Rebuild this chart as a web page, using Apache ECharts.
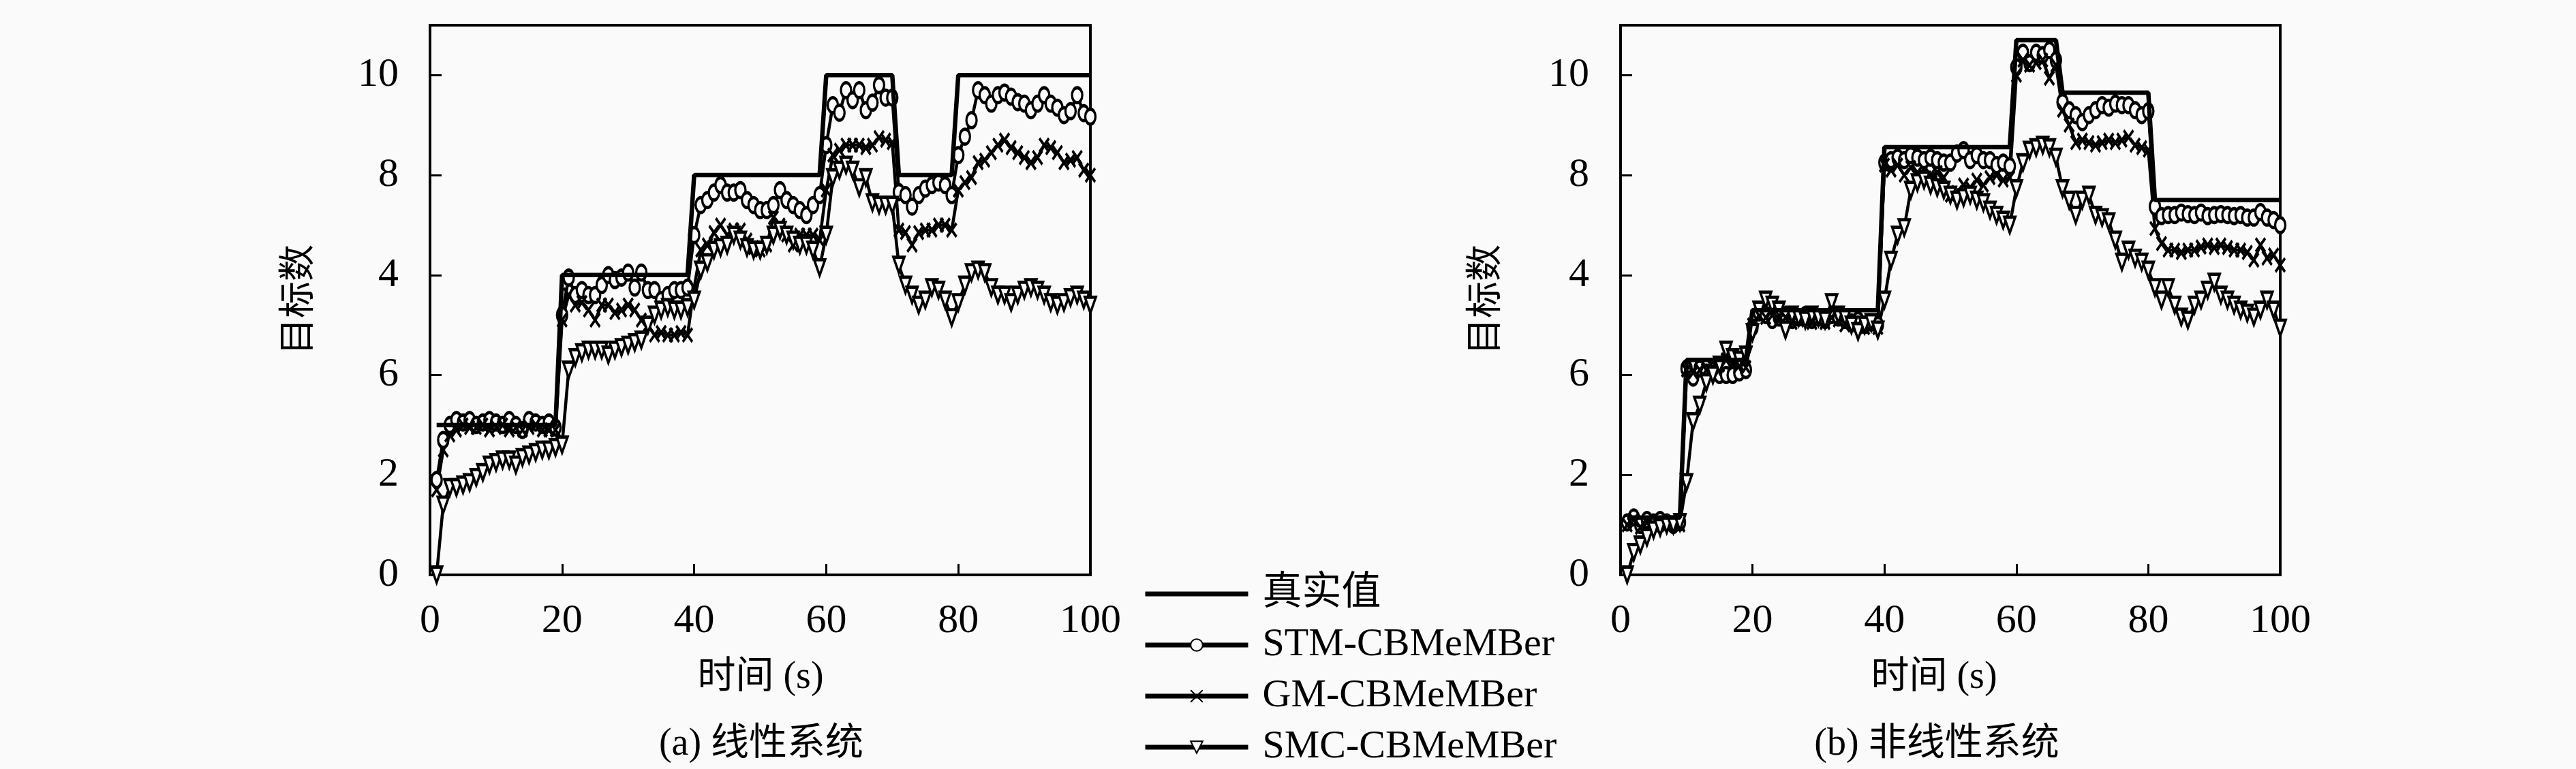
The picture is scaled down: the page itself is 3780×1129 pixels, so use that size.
<!DOCTYPE html>
<html>
<head>
<meta charset="utf-8">
<script src="https://cdn.jsdelivr.net/npm/echarts@6/dist/echarts.min.js"></script>
<style>
  html, body { margin: 0; padding: 0; background: #fafafa; }
  #chart { width: 3780px; height: 1129px; }
</style>
</head>
<body>
<div id="chart"></div>
<script>
// y tick labels exactly as printed in the figure (6 and 4 appear swapped there)
const yTickLabels = ['0', '2', '6', '4', '8', '10'];
const seriesNames = ['真实值', 'STM-CBMeMBer', 'GM-CBMeMBer', 'SMC-CBMeMBer'];
const seconds = Array.from({ length: 100 }, (_, i) => i + 1);

// (a) linear system, one value per second, t = 1..100
const linTruth = [
  3, 3, 3, 3, 3, 3, 3, 3, 3, 3, 3, 3, 3, 3, 3, 3, 3, 3, 3,
  6, 6, 6, 6, 6, 6, 6, 6, 6, 6, 6, 6, 6, 6, 6, 6, 6, 6, 6, 6,
  8, 8, 8, 8, 8, 8, 8, 8, 8, 8, 8, 8, 8, 8, 8, 8, 8, 8, 8, 8,
  10, 10, 10, 10, 10, 10, 10, 10, 10, 10, 10,
  8, 8, 8, 8, 8, 8, 8, 8, 8,
  10, 10, 10, 10, 10, 10, 10, 10, 10, 10, 10, 10, 10, 10, 10, 10, 10, 10, 10, 10, 10,
];
const linStm = [
  1.9, 2.7, 3.0, 3.1, 3.05, 3.1, 3.0, 3.05, 3.1, 3.05, 3.0, 3.1, 3.0, 2.9, 3.1, 3.05, 3.0, 3.05, 2.95,
  5.2, 5.95, 5.6, 5.7, 5.6, 5.6, 5.8, 6.0, 5.9, 5.95, 6.05, 5.75, 6.05, 5.7, 5.7, 5.5, 5.6, 5.7, 5.7, 5.75,
  6.8, 7.4, 7.5, 7.65, 7.8, 7.65, 7.65, 7.7, 7.5, 7.4,
  7.3, 7.3, 7.4, 7.7, 7.5, 7.4, 7.3, 7.2, 7.4, 7.6,
  8.6, 9.4, 9.25, 9.7, 9.5, 9.7, 9.3, 9.45, 9.8, 9.55, 9.55,
  7.66, 7.6, 7.37, 7.6, 7.73, 7.8, 7.85, 7.8, 7.6,
  8.4, 8.77, 9.1, 9.7, 9.6, 9.43, 9.6, 9.65, 9.57, 9.46, 9.43, 9.3, 9.43, 9.6, 9.43, 9.35, 9.2, 9.28, 9.6, 9.24, 9.17,
];
const linGm = [
  1.7, 2.5, 2.8, 2.9, 3.0, 2.95, 2.95, 3.0, 2.9, 2.95, 3.0, 2.9, 2.95, 2.9, 2.95, 3.0, 2.9, 2.9, 2.9,
  5.1, 5.6, 5.4, 5.45, 5.3, 5.1, 5.4, 5.4, 5.25, 5.3, 5.4, 5.3, 5.1, 5.0, 4.8, 4.85, 4.8, 4.8, 4.85, 4.8,
  5.75, 6.5, 6.6, 6.85, 7.0, 6.8, 6.9, 6.9, 6.7, 6.55,
  6.5, 6.6, 7.15, 7.0, 6.8, 6.6, 6.8, 6.8, 6.8, 6.7,
  7.7, 8.4, 8.5, 8.6, 8.6, 8.6, 8.55, 8.6, 8.75, 8.7, 8.65,
  6.9, 6.85, 6.6, 6.85, 6.9, 6.9, 7.0, 7.0, 6.9,
  7.7, 7.85, 7.95, 8.25, 8.3, 8.45, 8.6, 8.7, 8.55, 8.45, 8.35, 8.25, 8.35, 8.6, 8.55, 8.45, 8.25, 8.3, 8.35, 8.1, 8.0,
];
const linSmc = [
  0, 1.4, 1.75, 1.75, 1.8, 1.85, 1.95, 2.05, 2.2, 2.25, 2.3, 2.3, 2.2, 2.35, 2.4, 2.45, 2.5, 2.5, 2.55,
  2.6, 4.1, 4.35, 4.45, 4.5, 4.5, 4.5, 4.4, 4.5, 4.55, 4.6, 4.65, 4.7, 5.0, 5.2, 5.3, 5.35, 5.3, 5.3, 5.35,
  5.5, 6.1, 6.25, 6.5, 6.55, 6.6, 6.8, 6.7, 6.55, 6.5,
  6.5, 6.6, 6.8, 6.9, 6.8, 6.7, 6.6, 6.6, 6.5, 6.15,
  6.8, 7.95, 8.1, 8.2, 8.1, 7.75, 7.95, 7.45, 7.4, 7.4, 7.4,
  6.2, 5.8, 5.6, 5.4, 5.5, 5.75, 5.7, 5.5, 5.15,
  5.45, 5.8, 6.05, 6.1, 6.05, 5.75, 5.6, 5.6, 5.45, 5.6, 5.7, 5.75, 5.7, 5.6, 5.45, 5.4, 5.45, 5.55, 5.6, 5.5, 5.4,
];

// (b) nonlinear system, t = 1..100
const nonTruth = [
  1.15, 1.15, 1.15, 1.15, 1.15, 1.15, 1.15, 1.15, 1.15,
  4.3, 4.3, 4.3, 4.3, 4.3, 4.3, 4.3, 4.3, 4.3, 4.3,
  5.3, 5.3, 5.3, 5.3, 5.3, 5.3, 5.3, 5.3, 5.3, 5.3, 5.3, 5.3, 5.3, 5.3, 5.3, 5.3, 5.3, 5.3, 5.3, 5.3,
  8.56, 8.56, 8.56, 8.56, 8.56, 8.56, 8.56, 8.56, 8.56, 8.56, 8.56, 8.56, 8.56, 8.56, 8.56, 8.56, 8.56, 8.56, 8.56, 8.56,
  10.7, 10.7, 10.7, 10.7, 10.7, 10.7, 10.7,
  9.65, 9.65, 9.65, 9.65, 9.65, 9.65, 9.65, 9.65, 9.65, 9.65, 9.65, 9.65, 9.65, 9.65,
  7.5, 7.5, 7.5, 7.5, 7.5, 7.5, 7.5, 7.5, 7.5, 7.5, 7.5, 7.5, 7.5, 7.5, 7.5, 7.5, 7.5, 7.5, 7.5, 7.5,
];
const nonStm = [
  1.05, 1.15, 1.0, 1.1, 1.05, 1.1, 1.05, 1.0, 1.05,
  4.13, 3.95, 4.13, 4.05, 4.1, 4.0, 4.0, 4.0, 4.05, 4.1,
  4.95, 5.25, 5.2, 5.1, 5.15, 5.2, 5.1, 5.15, 5.2, 5.1, 5.15, 5.1, 5.2, 5.15, 5.1, 5.05, 5.1, 5.0, 5.05, 5.0,
  8.25, 8.3, 8.35, 8.3, 8.4, 8.35, 8.3, 8.35, 8.3, 8.25,
  8.25, 8.43, 8.5, 8.3, 8.4, 8.3, 8.3, 8.2, 8.25, 8.18,
  10.16, 10.45, 10.24, 10.45, 10.4, 10.5, 10.3,
  9.46, 9.3, 9.2, 9.06, 9.2, 9.3, 9.4, 9.35, 9.43, 9.4, 9.4, 9.3, 9.2, 9.28,
  7.37, 7.18, 7.2, 7.2, 7.25, 7.22, 7.2, 7.25, 7.18, 7.2, 7.22, 7.2, 7.18, 7.2, 7.15, 7.15, 7.26, 7.15, 7.1, 7.0,
];
const nonGm = [
  1.0, 1.1, 0.95, 1.05, 1.0, 1.05, 1.0, 1.05, 1.0,
  4.1, 4.05, 4.1, 4.1, 4.15, 4.2, 4.3, 4.25, 4.2, 4.15,
  5.0, 5.2, 5.15, 5.2, 5.1, 5.15, 5.05, 5.1, 5.15, 5.05, 5.1, 5.05, 5.15, 5.1, 5.0, 5.05, 5.0, 4.95, 5.0, 4.95,
  8.2, 8.1, 8.2, 8.0, 8.15, 8.05, 8.1, 8.0, 8.05, 7.95,
  7.6, 7.65, 7.8, 7.75, 7.9, 7.8, 7.95, 8.0, 7.9, 7.95,
  10.0, 10.3, 10.2, 10.25, 10.3, 9.94, 10.2,
  9.3, 9.0, 8.65, 8.7, 8.65, 8.6, 8.65, 8.7, 8.65, 8.7, 8.76, 8.6, 8.55, 8.5,
  6.93, 6.63, 6.5, 6.5, 6.45, 6.5, 6.5, 6.56, 6.6, 6.55, 6.6, 6.55, 6.5, 6.5, 6.45, 6.3, 6.6, 6.34, 6.4, 6.2,
];
const nonSmc = [
  0, 0.45, 0.6, 0.75, 0.9, 0.95, 1.0, 1.0, 1.05,
  1.85, 3.07, 3.4, 3.85, 4.0, 4.2, 4.5, 4.35, 4.3, 4.4,
  4.85, 5.3, 5.5, 5.4, 5.3, 4.9, 5.2, 5.15, 5.1, 5.2, 5.15, 5.1, 5.45, 5.2, 5.15, 5.0, 4.87, 5.0, 5.05, 4.9,
  5.5, 6.3, 6.8, 6.95, 7.7, 7.85, 7.9, 7.8, 7.75, 7.7,
  7.6, 7.5, 7.55, 7.6, 7.5, 7.45, 7.3, 7.2, 7.1, 7.0,
  7.73, 8.25, 8.5, 8.55, 8.6, 8.55, 8.36,
  7.73, 7.5, 7.2, 7.5, 7.6, 7.2, 7.15, 7.07, 6.7, 6.26, 6.5, 6.34, 6.26, 6.1,
  5.75, 5.5, 5.75, 5.4, 5.16, 5.1, 5.4, 5.5, 5.7, 5.86, 5.6, 5.5, 5.4, 5.3, 5.24, 5.16, 5.3, 5.5, 5.3, 4.94,
];

const BG = '#fafafa';
const INK = '#000';
const SERIF = "'Liberation Serif', 'Noto Sans CJK SC', serif";

const markCircle = 'circle';
const markCross = 'path://M0,0L10,10M10,0L0,10';
const markTriangle = 'path://M0,0L10,0L5,10Z';
const plainLineIcon = 'path://M0,0L151,0L151,7L0,7Z';

function pairs(values) {
  return values.map((v, i) => [seconds[i], v]);
}

function grid(left, right) {
  return {
    left: left, right: right, top: 37, bottom: 285,
    show: true, borderColor: INK, borderWidth: 4, backgroundColor: 'transparent',
  };
}

function xAxis(gridIndex) {
  return {
    type: 'value', gridIndex: gridIndex, min: 0, max: 100, interval: 20,
    splitLine: { show: false },
    axisLine: { lineStyle: { color: INK, width: 4 } },
    axisTick: { inside: true, length: 16, lineStyle: { color: INK, width: 3 } },
    axisLabel: { color: INK, fontFamily: SERIF, fontSize: 60, margin: 38 },
  };
}

function yAxis(gridIndex) {
  return {
    type: 'value', gridIndex: gridIndex, min: 0, max: 11, interval: 2,
    splitLine: { show: false },
    axisLine: { show: true, lineStyle: { color: INK, width: 4 } },
    axisTick: { inside: true, length: 17, lineStyle: { color: INK, width: 3 } },
    axisLabel: {
      color: INK, fontFamily: SERIF, fontSize: 60, margin: 46,
      formatter: (v) => (yTickLabels[v / 2] !== undefined ? yTickLabels[v / 2] : ''),
    },
  };
}

function series(index, truth, stm, gm, smc) {
  const common = {
    type: 'line', xAxisIndex: index, yAxisIndex: index, showSymbol: true,
    showAllSymbol: true, animation: false, silent: true,
  };
  const marker = (symbol, size) => ({
    symbol: symbol, symbolSize: size,
    itemStyle: { color: BG, borderColor: INK, borderWidth: 4 },
    lineStyle: { color: INK, width: 4.5 },
  });
  return [
    { ...common, name: seriesNames[1], data: pairs(stm), ...marker(markCircle, [15, 22]), z: 3 },
    { ...common, name: seriesNames[2], data: pairs(gm), ...marker(markCross, [14, 20]), z: 3 },
    { ...common, name: seriesNames[3], data: pairs(smc), ...marker(markTriangle, [16, 23]), z: 3 },
    {
      ...common, name: seriesNames[0], data: pairs(truth), symbol: 'none',
      itemStyle: { color: INK }, lineStyle: { color: INK, width: 6.5 }, z: 4,
    },
  ];
}

function label(text, x, y, size, rotation) {
  return {
    type: 'text', x: x, y: y, rotation: rotation || 0,
    style: {
      text: text, fill: INK, font: size + 'px ' + SERIF,
      align: 'center', verticalAlign: 'middle',
    },
  };
}

const chart = echarts.init(document.getElementById('chart'), null, { renderer: 'canvas' });
chart.setOption({
  backgroundColor: BG,
  animation: false,
  grid: [grid(631, 2180), grid(2378, 434)],
  xAxis: [xAxis(0), xAxis(1)],
  yAxis: [yAxis(0), yAxis(1)],
  legend: {
    data: [
      { name: seriesNames[0], icon: plainLineIcon, itemStyle: { color: INK } },
      seriesNames[1], seriesNames[2], seriesNames[3],
    ],
    orient: 'vertical',
    left: 1677, top: 843, padding: 0,
    itemWidth: 151, itemHeight: 22, itemGap: 17,
    lineStyle: { width: 7 },
    textStyle: { color: INK, fontFamily: SERIF, fontSize: 58, lineHeight: 56, padding: [0, 0, 0, 16] },
    selectedMode: false,
  },
  graphic: [
    label('目标数', 441, 440, 54, Math.PI / 2),
    label('目标数', 2183, 440, 54, Math.PI / 2),
    label('时间 (s)', 1116, 995, 56),
    label('时间 (s)', 2838, 995, 56),
    label('(a) 线性系统', 1117, 1093, 56),
    label('(b) 非线性系统', 2842, 1093, 56),
  ],
  series: [
    ...series(0, linTruth, linStm, linGm, linSmc),
    ...series(1, nonTruth, nonStm, nonGm, nonSmc),
  ],
});
</script>
</body>
</html>
